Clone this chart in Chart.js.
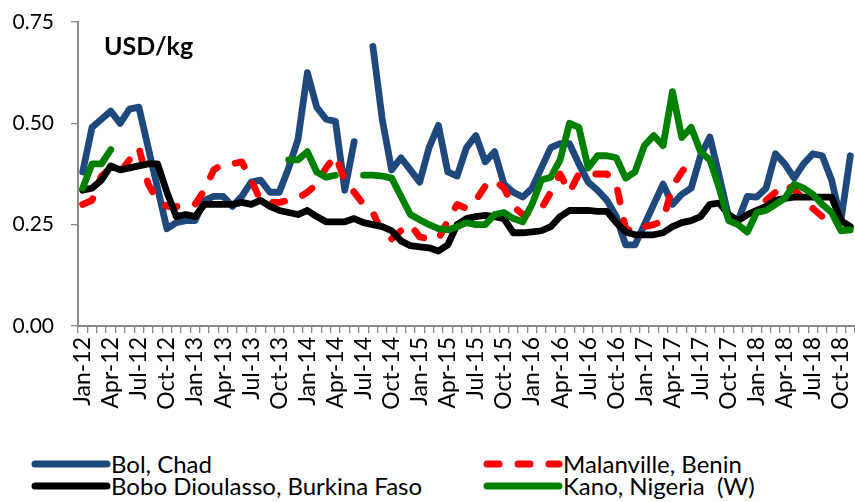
<!DOCTYPE html>
<html>
<head>
<meta charset="utf-8">
<script src="https://cdn.jsdelivr.net/npm/chart.js@4.4.1/dist/chart.umd.min.js"></script>
<style>
  html, body { margin: 0; padding: 0; background: #fff; }
  #wrap { position: relative; width: 855px; height: 502px; overflow: hidden; font-family: 'Lato', sans-serif; }
  #c { position: absolute; left: 0; top: 0; }
  .lg { position: absolute; display: flex; align-items: center; font-size: 24px; color: #000; white-space: nowrap; }
  .lg svg { margin-right: 0px; }
</style>
</head>
<body>
<div id="wrap">
  <canvas id="c" width="855" height="430"></canvas>
  <div class="lg" style="left:31px; top:449px;"><svg width="80" height="12"><line x1="4" y1="6" x2="76" y2="6" stroke="#1F497D" stroke-width="7" stroke-linecap="round"/></svg><span>Bol, Chad</span></div>
  <div class="lg" style="left:483px; top:449px;"><svg width="80" height="12"><line x1="4" y1="6" x2="76" y2="6" stroke="#FF0000" stroke-width="7" stroke-linecap="round" stroke-dasharray="12 19"/></svg><span>Malanville, Benin</span></div>
  <div class="lg" style="left:31px; top:471px;"><svg width="80" height="12"><line x1="4" y1="6" x2="76" y2="6" stroke="#000000" stroke-width="7" stroke-linecap="round"/></svg><span>Bobo Dioulasso, Burkina Faso</span></div>
  <div class="lg" style="left:483px; top:471px;"><svg width="80" height="12"><line x1="4" y1="6" x2="76" y2="6" stroke="#008000" stroke-width="7" stroke-linecap="round"/></svg><span>Kano, Nigeria&nbsp; (W)</span></div>
</div>
<script>
const months = [
  'Jan-12','Feb-12','Mar-12','Apr-12','May-12','Jun-12','Jul-12','Aug-12','Sep-12','Oct-12','Nov-12','Dec-12',
  'Jan-13','Feb-13','Mar-13','Apr-13','May-13','Jun-13','Jul-13','Aug-13','Sep-13','Oct-13','Nov-13','Dec-13',
  'Jan-14','Feb-14','Mar-14','Apr-14','May-14','Jun-14','Jul-14','Aug-14','Sep-14','Oct-14','Nov-14','Dec-14',
  'Jan-15','Feb-15','Mar-15','Apr-15','May-15','Jun-15','Jul-15','Aug-15','Sep-15','Oct-15','Nov-15','Dec-15',
  'Jan-16','Feb-16','Mar-16','Apr-16','May-16','Jun-16','Jul-16','Aug-16','Sep-16','Oct-16','Nov-16','Dec-16',
  'Jan-17','Feb-17','Mar-17','Apr-17','May-17','Jun-17','Jul-17','Aug-17','Sep-17','Oct-17','Nov-17','Dec-17',
  'Jan-18','Feb-18','Mar-18','Apr-18','May-18','Jun-18','Jul-18','Aug-18','Sep-18','Oct-18','Nov-18'
];
const shownTickLabels = ['Jan-12','Apr-12','Jul-12','Oct-12','Jan-13','Apr-13','Jul-13','Oct-13','Jan-14','Apr-14','Jul-14','Oct-14',
  'Jan-15','Apr-15','Jul-15','Oct-15','Jan-16','Apr-16','Jul-16','Oct-16','Jan-17','Apr-17','Jul-17','Oct-17','Jan-18','Apr-18','Jul-18','Oct-18'];
const yTicks = [0, 0.25, 0.5, 0.75];

const bolChad = [
  0.38,0.49,0.51,0.53,0.50,0.535,0.54,0.44,0.34,0.24,0.255,0.26,
  0.26,0.31,0.32,0.32,0.295,0.32,0.355,0.36,0.33,0.33,0.39,0.46,
  0.625,0.54,0.51,0.505,0.335,0.455,null,0.69,0.51,0.385,0.415,0.385,
  0.355,0.44,0.495,0.38,0.37,0.44,0.47,0.405,0.43,0.35,0.33,0.318,
  0.34,0.39,0.44,0.45,0.45,0.40,0.355,0.335,0.31,0.27,0.20,0.20,
  0.25,0.30,0.35,0.30,0.325,0.34,0.42,0.466,0.37,0.27,0.26,0.32,
  0.318,0.34,0.425,0.40,0.365,0.40,0.425,0.42,0.36,0.26,0.42
];
const malanville = [
  0.30,0.31,0.37,0.39,0.38,0.41,0.44,0.35,0.31,0.295,0.295,0.295,
  0.30,0.335,0.385,0.40,0.40,0.405,0.36,0.31,0.305,0.305,0.31,0.315,
  0.33,0.35,0.39,0.42,0.36,0.33,0.30,0.28,0.23,0.215,0.235,0.25,
  0.22,0.215,0.215,0.26,0.30,0.29,0.31,0.345,0.36,0.34,0.295,0.275,
  0.28,0.29,0.33,0.375,0.33,0.375,0.375,0.375,0.375,0.35,0.24,0.23,
  0.245,0.25,0.26,0.345,0.38,0.41,null,null,null,null,null,null,
  null,0.31,0.33,0.35,0.335,0.315,0.29,0.27,null,null,null
];
const boboDioulasso = [
  0.335,0.34,0.36,0.395,0.385,0.39,0.395,0.40,0.40,0.33,0.27,0.275,
  0.27,0.30,0.30,0.30,0.30,0.305,0.30,0.31,0.295,0.285,0.28,0.275,
  0.285,0.27,0.257,0.257,0.257,0.265,0.255,0.25,0.245,0.235,0.21,0.198,
  0.195,0.193,0.185,0.20,0.25,0.265,0.27,0.273,0.27,0.265,0.23,0.23,
  0.232,0.235,0.245,0.27,0.285,0.285,0.285,0.283,0.283,0.255,0.232,0.225,
  0.225,0.225,0.23,0.245,0.255,0.26,0.27,0.30,0.303,0.275,0.26,0.275,
  0.285,0.295,0.31,0.315,0.318,0.318,0.318,0.318,0.318,0.26,0.245
];
const kano = [
  0.34,0.40,0.40,0.435,null,null,null,null,null,null,null,null,
  null,null,null,null,null,null,null,null,null,null,0.41,0.41,
  0.43,0.38,0.367,0.372,null,null,0.372,0.372,0.37,0.365,0.32,0.275,
  0.262,0.25,0.24,0.237,0.245,0.255,0.25,0.25,0.275,0.28,0.265,0.257,
  0.30,0.36,0.367,0.41,0.50,0.49,0.39,0.42,0.42,0.415,0.365,0.38,
  0.445,0.47,0.445,0.578,0.465,0.49,0.43,0.41,0.34,0.26,0.25,0.232,
  0.28,0.285,0.30,0.315,0.35,0.34,0.325,0.30,0.28,0.235,0.237
];

const AXIS = '#898989';

const unitLabel = {
  id: 'unitLabel',
  afterDatasetsDraw(chart) {
    const { ctx, chartArea } = chart;
    ctx.save();
    ctx.font = 'bold 25px Lato';
    ctx.fillStyle = '#000';
    ctx.textBaseline = 'middle';
    ctx.textAlign = 'left';
    ctx.fillText('USD/kg', chartArea.left + 26, 47);
    ctx.restore();
  }
};

function line(label, data, color, order, dash) {
  return {
    label, data, borderColor: color, backgroundColor: color,
    borderWidth: 6.8, pointRadius: 0, pointHoverRadius: 0, tension: 0,
    borderJoinStyle: 'round', borderCapStyle: 'round', spanGaps: false,
    borderDash: dash || [], order, fill: false
  };
}

new Chart(document.getElementById('c'), {
  type: 'line',
  data: {
    labels: months,
    datasets: [
      line('Bol, Chad', bolChad, '#1F497D', 3),
      line('Malanville, Benin', malanville, '#FF0000', 2, [12, 19]),
      line('Bobo Dioulasso, Burkina Faso', boboDioulasso, '#000000', 1),
      line('Kano, Nigeria  (W)', kano, '#008000', 0)
    ]
  },
  plugins: [unitLabel],
  options: {
    responsive: false,
    animation: false,
    events: [],
    layout: { padding: { top: 22, left: 0, right: 0, bottom: 0 } },
    plugins: { legend: { display: false }, tooltip: { enabled: false } },
    scales: {
      x: {
        offset: true,
        afterFit: s => { s.height = 104; s.paddingLeft = 0; s.paddingRight = 0; },
        grid: { display: true, drawOnChartArea: false, drawTicks: true, tickLength: 7, offset: true, color: AXIS, lineWidth: 1.3 },
        border: { display: true, color: AXIS, width: 2 },
        ticks: {
          autoSkip: false, maxRotation: 90, minRotation: 90, padding: 4,
          color: '#000', font: { family: 'Lato', size: 23 },
          callback: (v, i) => shownTickLabels.includes(months[i]) ? months[i] : ''
        }
      },
      y: {
        min: 0, max: 0.75,
        afterFit: s => { s.width = 78; s.paddingTop = 0; s.paddingBottom = 0; },
        afterBuildTicks: s => { s.ticks = yTicks.map(v => ({ value: v })); },
        grid: { display: true, drawOnChartArea: false, drawTicks: true, tickLength: 7, color: AXIS, lineWidth: 1.3 },
        border: { display: true, color: AXIS, width: 2 },
        ticks: {
          padding: 17, color: '#000', font: { family: 'Lato', size: 21 },
          callback: v => Number(v).toFixed(2)
        }
      }
    }
  }
});
</script>
</body>
</html>
